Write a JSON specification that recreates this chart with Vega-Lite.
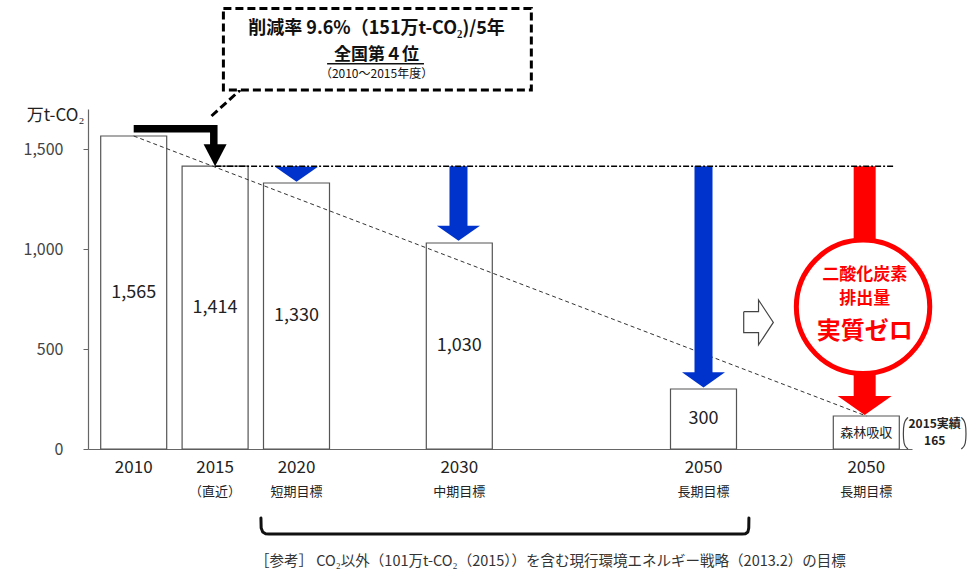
{
  "$schema": "https://vega.github.io/schema/vega-lite/v6.json",
  "width": 824,
  "height": 340,
  "autosize": "none",
  "padding": {"left": 88, "top": 109, "right": 64, "bottom": 125},
  "background": "white",
  "config": {"view": {"stroke": null}, "font": "Noto Sans CJK JP", "text": {"font": "Noto Sans CJK JP"}},
  "resolve": {"axis": {"x": "independent", "y": "independent"}},
  "datasets": {
    "bars": [
      {"slot": 0, "value": 1565, "label": "1,565"},
      {"slot": 1, "value": 1414, "label": "1,414"},
      {"slot": 2, "value": 1330, "label": "1,330"},
      {"slot": 4, "value": 1030, "label": "1,030"},
      {"slot": 7, "value": 300, "label": "300"},
      {"slot": 9, "value": 165, "label": "森林吸収"}
    ],
    "cats": [
      {"slot": 0, "year": "2010", "sub": ""},
      {"slot": 1, "year": "2015", "sub": "（直近）"},
      {"slot": 2, "year": "2020", "sub": "短期目標"},
      {"slot": 4, "year": "2030", "sub": "中期目標"},
      {"slot": 7, "year": "2050", "sub": "長期目標"},
      {"slot": 9, "year": "2050", "sub": "長期目標"}
    ],
    "trend": [{"slot": 0, "value": 1565}, {"slot": 9, "value": 165}],
    "baseline": [{"slot": 1, "value": 1414}, {"slot": 9.354, "value": 1414}],
    "blackPath": [
      {"slot": 0, "value": 1601, "o": 1},
      {"slot": 0.984, "value": 1601, "o": 2},
      {"slot": 0.984, "value": 1510, "o": 3}
    ],
    "blackHead": [{"slot": 1, "value": 1414}],
    "blue": [
      {"slot": 2, "from": 1414, "to": 1400, "tip": 1336},
      {"slot": 3.99, "from": 1414, "to": 1106, "tip": 1041},
      {"slot": 7, "from": 1414, "to": 373, "tip": 308}
    ],
    "red": [{"slot": 8.98, "from": 1414, "to": 255, "tip": 170}],
    "circle": [{"slot": 8.96, "value": 711}],
    "circleSmall": [
      {"slot": 8.98, "value": 868, "t": "二酸化炭素"},
      {"slot": 8.98, "value": 752, "t": "排出量"}
    ],
    "circleBig": [{"slot": 8.98, "value": 585, "t": "実質ゼロ"}],
    "outlineArrow": [
      {"slot": 7.494, "value": 686.5, "o": 1},
      {"slot": 7.676, "value": 686.5, "o": 2},
      {"slot": 7.676, "value": 745, "o": 3},
      {"slot": 7.858, "value": 633, "o": 4},
      {"slot": 7.676, "value": 521, "o": 5},
      {"slot": 7.676, "value": 581.5, "o": 6},
      {"slot": 7.494, "value": 581.5, "o": 7},
      {"slot": 7.494, "value": 686.5, "o": 8}
    ],
    "callout": [{"x1": 1.102, "x2": 4.885, "y1": 1795, "y2": 2203}],
    "pointer": [{"slot": 1.308, "value": 1795}, {"slot": 0.956, "value": 1665}],
    "calloutLine1": [{"slot": 2.983, "value": 2100, "t": "削減率 9.6%（151万t-CO₂)/5年"}],
    "calloutLine2": [{"slot": 2.983, "value": 1968, "t": "全国第４位"}],
    "calloutSmall": [{"slot": 2.983, "value": 1873, "t": "（2010～2015年度）"}],
    "underline": [{"x1": 2.376, "x2": 3.566, "value": 1926}],
    "yTitle": [{"slot": -0.961, "value": 1665, "t": "万t-CO₂"}],
    "bracket": [
      {"slot": 1.563, "value": -345, "o": 1},
      {"slot": 1.566, "value": -395, "o": 2},
      {"slot": 1.585, "value": -415, "o": 3},
      {"slot": 1.62, "value": -424, "o": 4},
      {"slot": 1.66, "value": -425, "o": 5},
      {"slot": 7.474, "value": -425, "o": 6},
      {"slot": 7.515, "value": -424, "o": 7},
      {"slot": 7.545, "value": -415, "o": 8},
      {"slot": 7.556, "value": -395, "o": 9},
      {"slot": 7.558, "value": -345, "o": 10}
    ],
    "note": [{"slot": 1.49, "value": -565, "t": "［参考］ CO₂以外（101万t-CO₂（2015））を含む現行環境エネルギー戦略（2013.2）の目標"}],
    "parens": [
      {"side": "L", "o": 1, "slot": 9.512, "value": 158},
      {"side": "L", "o": 2, "slot": 9.47, "value": 140},
      {"side": "L", "o": 3, "slot": 9.455, "value": 110},
      {"side": "L", "o": 4, "slot": 9.455, "value": 45},
      {"side": "L", "o": 5, "slot": 9.47, "value": 15},
      {"side": "L", "o": 6, "slot": 9.512, "value": 0},
      {"side": "R", "o": 1, "slot": 10.167, "value": 158},
      {"side": "R", "o": 2, "slot": 10.21, "value": 140},
      {"side": "R", "o": 3, "slot": 10.225, "value": 110},
      {"side": "R", "o": 4, "slot": 10.225, "value": 45},
      {"side": "R", "o": 5, "slot": 10.21, "value": 15},
      {"side": "R", "o": 6, "slot": 10.167, "value": 0}
    ],
    "actual": [
      {"slot": 9.84, "value": 125, "t": "2015実績"},
      {"slot": 9.84, "value": 40, "t": "165"}
    ]
  },
  "layer": [
    {
      "data": {"name": "bars"},
      "mark": {"type": "bar", "orient": "vertical", "width": 66, "fill": "white", "stroke": "#555", "strokeWidth": 1.2},
      "encoding": {
        "x": {"field": "slot", "type": "quantitative", "scale": {"domain": [-0.5, 9.5]},
              "axis": {"title": null, "labels": false, "ticks": false, "grid": false, "domainColor": "#666", "domainWidth": 1.2}},
        "y": {"field": "value", "type": "quantitative", "scale": {"domain": [0, 1700]},
              "axis": {"title": null, "values": [0, 500, 1000, 1500], "format": ",.0f", "grid": false, "domainColor": "#666", "domainWidth": 1.2,
                       "tickColor": "#666", "tickSize": 5, "labelFontSize": 16, "labelColor": "#444", "labelFont": "Noto Sans CJK JP", "labelPadding": 20}}
      }
    },
    {
      "data": {"name": "trend"},
      "mark": {"type": "line", "strokeDash": [4, 3], "color": "#333", "strokeWidth": 1},
      "encoding": {
        "x": {"field": "slot", "type": "quantitative", "scale": {"domain": [-0.5, 9.5]}, "axis": null},
        "y": {"field": "value", "type": "quantitative", "scale": {"domain": [0, 1700]}, "axis": null}
      }
    },
    {
      "data": {"name": "bars"},
      "transform": [{"calculate": "datum.value / 2", "as": "mid"}],
      "mark": {"type": "text", "color": "#222", "baseline": "middle"},
      "encoding": {
        "x": {"field": "slot", "type": "quantitative", "scale": {"domain": [-0.5, 9.5]}, "axis": null},
        "y": {"field": "mid", "type": "quantitative", "scale": {"domain": [0, 1700]}, "axis": null},
        "text": {"field": "label"},
        "size": {"condition": {"test": "datum.slot === 9", "value": 13}, "value": 18}
      }
    },
    {
      "data": {"name": "blackPath"},
      "mark": {"type": "line", "color": "black", "strokeWidth": 7.5, "strokeJoin": "miter", "strokeCap": "butt"},
      "encoding": {
        "x": {"field": "slot", "type": "quantitative", "scale": {"domain": [-0.5, 9.5]}, "axis": null},
        "y": {"field": "value", "type": "quantitative", "scale": {"domain": [0, 1700]}, "axis": null},
        "order": {"field": "o"}
      }
    },
    {
      "data": {"name": "blackHead"},
      "mark": {"type": "point", "shape": "M-1,-1.9L1,-1.9L0,0Z", "size": 529, "filled": true, "color": "black", "opacity": 1},
      "encoding": {
        "x": {"field": "slot", "type": "quantitative", "scale": {"domain": [-0.5, 9.5]}, "axis": null},
        "y": {"field": "value", "type": "quantitative", "scale": {"domain": [0, 1700]}, "axis": null}
      }
    },
    {
      "data": {"name": "blue"},
      "mark": {"type": "rule", "color": "#0033CC", "strokeWidth": 18, "strokeCap": "butt"},
      "encoding": {
        "x": {"field": "slot", "type": "quantitative", "scale": {"domain": [-0.5, 9.5]}, "axis": null},
        "y": {"field": "from", "type": "quantitative", "scale": {"domain": [0, 1700]}, "axis": null},
        "y2": {"field": "to"}
      }
    },
    {
      "data": {"name": "blue"},
      "mark": {"type": "point", "shape": "M-1,-0.7L1,-0.7L0,0Z", "size": 1849, "filled": true, "color": "#0033CC", "opacity": 1},
      "encoding": {
        "x": {"field": "slot", "type": "quantitative", "scale": {"domain": [-0.5, 9.5]}, "axis": null},
        "y": {"field": "tip", "type": "quantitative", "scale": {"domain": [0, 1700]}, "axis": null}
      }
    },
    {
      "data": {"name": "red"},
      "mark": {"type": "rule", "color": "#FF0000", "strokeWidth": 22, "strokeCap": "butt"},
      "encoding": {
        "x": {"field": "slot", "type": "quantitative", "scale": {"domain": [-0.5, 9.5]}, "axis": null},
        "y": {"field": "from", "type": "quantitative", "scale": {"domain": [0, 1700]}, "axis": null},
        "y2": {"field": "to"}
      }
    },
    {
      "data": {"name": "red"},
      "mark": {"type": "point", "shape": "M-1,-0.7L1,-0.7L0,0Z", "size": 2916, "filled": true, "color": "#FF0000", "opacity": 1},
      "encoding": {
        "x": {"field": "slot", "type": "quantitative", "scale": {"domain": [-0.5, 9.5]}, "axis": null},
        "y": {"field": "tip", "type": "quantitative", "scale": {"domain": [0, 1700]}, "axis": null}
      }
    },
    {
      "data": {"name": "baseline"},
      "mark": {"type": "line", "color": "black", "strokeWidth": 1.5, "strokeDash": [6, 2, 2, 2]},
      "encoding": {
        "x": {"field": "slot", "type": "quantitative", "scale": {"domain": [-0.5, 9.5]}, "axis": null},
        "y": {"field": "value", "type": "quantitative", "scale": {"domain": [0, 1700]}, "axis": null}
      }
    },
    {
      "data": {"name": "circle"},
      "mark": {"type": "point", "shape": "circle", "size": 17796, "filled": true, "fill": "white", "stroke": "#FF0000", "strokeWidth": 5, "opacity": 1},
      "encoding": {
        "x": {"field": "slot", "type": "quantitative", "scale": {"domain": [-0.5, 9.5]}, "axis": null},
        "y": {"field": "value", "type": "quantitative", "scale": {"domain": [0, 1700]}, "axis": null}
      }
    },
    {
      "data": {"name": "circleSmall"},
      "mark": {"type": "text", "color": "#FF0000", "fontSize": 17, "fontWeight": "bold", "baseline": "middle"},
      "encoding": {
        "x": {"field": "slot", "type": "quantitative", "scale": {"domain": [-0.5, 9.5]}, "axis": null},
        "y": {"field": "value", "type": "quantitative", "scale": {"domain": [0, 1700]}, "axis": null},
        "text": {"field": "t"}
      }
    },
    {
      "data": {"name": "circleBig"},
      "mark": {"type": "text", "color": "#FF0000", "fontSize": 24, "fontWeight": "bold", "baseline": "middle"},
      "encoding": {
        "x": {"field": "slot", "type": "quantitative", "scale": {"domain": [-0.5, 9.5]}, "axis": null},
        "y": {"field": "value", "type": "quantitative", "scale": {"domain": [0, 1700]}, "axis": null},
        "text": {"field": "t"}
      }
    },
    {
      "data": {"name": "outlineArrow"},
      "mark": {"type": "line", "color": "#444", "strokeWidth": 1.2, "strokeJoin": "miter"},
      "encoding": {
        "x": {"field": "slot", "type": "quantitative", "scale": {"domain": [-0.5, 9.5]}, "axis": null},
        "y": {"field": "value", "type": "quantitative", "scale": {"domain": [0, 1700]}, "axis": null},
        "order": {"field": "o"}
      }
    },
    {
      "data": {"name": "pointer"},
      "mark": {"type": "line", "color": "black", "strokeWidth": 3, "strokeDash": [8, 4]},
      "encoding": {
        "x": {"field": "slot", "type": "quantitative", "scale": {"domain": [-0.5, 9.5]}, "axis": null},
        "y": {"field": "value", "type": "quantitative", "scale": {"domain": [0, 1700]}, "axis": null}
      }
    },
    {
      "data": {"name": "callout"},
      "mark": {"type": "rect", "fill": "white", "stroke": "black", "strokeWidth": 3, "strokeDash": [8, 4]},
      "encoding": {
        "x": {"field": "x1", "type": "quantitative", "scale": {"domain": [-0.5, 9.5]}, "axis": null},
        "x2": {"field": "x2"},
        "y": {"field": "y1", "type": "quantitative", "scale": {"domain": [0, 1700]}, "axis": null},
        "y2": {"field": "y2"}
      }
    },
    {
      "data": {"name": "calloutLine1"},
      "mark": {"type": "text", "color": "#111", "fontSize": 18, "fontWeight": "bold", "baseline": "middle"},
      "encoding": {
        "x": {"field": "slot", "type": "quantitative", "scale": {"domain": [-0.5, 9.5]}, "axis": null},
        "y": {"field": "value", "type": "quantitative", "scale": {"domain": [0, 1700]}, "axis": null},
        "text": {"field": "t"}
      }
    },
    {
      "data": {"name": "calloutLine2"},
      "mark": {"type": "text", "color": "#111", "fontSize": 17, "fontWeight": "bold", "baseline": "middle"},
      "encoding": {
        "x": {"field": "slot", "type": "quantitative", "scale": {"domain": [-0.5, 9.5]}, "axis": null},
        "y": {"field": "value", "type": "quantitative", "scale": {"domain": [0, 1700]}, "axis": null},
        "text": {"field": "t"}
      }
    },
    {
      "data": {"name": "calloutSmall"},
      "mark": {"type": "text", "color": "#111", "fontSize": 12, "baseline": "middle"},
      "encoding": {
        "x": {"field": "slot", "type": "quantitative", "scale": {"domain": [-0.5, 9.5]}, "axis": null},
        "y": {"field": "value", "type": "quantitative", "scale": {"domain": [0, 1700]}, "axis": null},
        "text": {"field": "t"}
      }
    },
    {
      "data": {"name": "underline"},
      "mark": {"type": "rule", "color": "#111", "strokeWidth": 1.5},
      "encoding": {
        "x": {"field": "x1", "type": "quantitative", "scale": {"domain": [-0.5, 9.5]}, "axis": null},
        "x2": {"field": "x2"},
        "y": {"field": "value", "type": "quantitative", "scale": {"domain": [0, 1700]}, "axis": null}
      }
    },
    {
      "data": {"name": "yTitle"},
      "mark": {"type": "text", "color": "#222", "fontSize": 17, "baseline": "middle"},
      "encoding": {
        "x": {"field": "slot", "type": "quantitative", "scale": {"domain": [-0.5, 9.5]}, "axis": null},
        "y": {"field": "value", "type": "quantitative", "scale": {"domain": [0, 1700]}, "axis": null},
        "text": {"field": "t"}
      }
    },
    {
      "data": {"name": "cats"},
      "mark": {"type": "text", "color": "#222", "fontSize": 17, "baseline": "middle"},
      "encoding": {
        "x": {"field": "slot", "type": "quantitative", "scale": {"domain": [-0.5, 9.5]}, "axis": null},
        "y": {"datum": -95, "type": "quantitative", "scale": {"domain": [0, 1700]}, "axis": null},
        "text": {"field": "year"}
      }
    },
    {
      "data": {"name": "cats"},
      "mark": {"type": "text", "color": "#222", "fontSize": 13, "baseline": "middle"},
      "encoding": {
        "x": {"field": "slot", "type": "quantitative", "scale": {"domain": [-0.5, 9.5]}, "axis": null},
        "y": {"datum": -215, "type": "quantitative", "scale": {"domain": [0, 1700]}, "axis": null},
        "text": {"field": "sub"}
      }
    },
    {
      "data": {"name": "bracket"},
      "mark": {"type": "line", "color": "#111", "strokeWidth": 3, "strokeCap": "round", "strokeJoin": "round"},
      "encoding": {
        "x": {"field": "slot", "type": "quantitative", "scale": {"domain": [-0.5, 9.5]}, "axis": null},
        "y": {"field": "value", "type": "quantitative", "scale": {"domain": [0, 1700]}, "axis": null},
        "order": {"field": "o"}
      }
    },
    {
      "data": {"name": "note"},
      "mark": {"type": "text", "color": "#333", "fontSize": 14.5, "align": "left", "baseline": "middle"},
      "encoding": {
        "x": {"field": "slot", "type": "quantitative", "scale": {"domain": [-0.5, 9.5]}, "axis": null},
        "y": {"field": "value", "type": "quantitative", "scale": {"domain": [0, 1700]}, "axis": null},
        "text": {"field": "t"}
      }
    },
    {
      "data": {"name": "parens"},
      "mark": {"type": "line", "color": "#444", "strokeWidth": 1.2, "interpolate": "basis"},
      "encoding": {
        "x": {"field": "slot", "type": "quantitative", "scale": {"domain": [-0.5, 9.5]}, "axis": null},
        "y": {"field": "value", "type": "quantitative", "scale": {"domain": [0, 1700]}, "axis": null},
        "detail": {"field": "side"},
        "order": {"field": "o"}
      }
    },
    {
      "data": {"name": "actual"},
      "mark": {"type": "text", "color": "#222", "fontSize": 12, "fontWeight": "bold", "baseline": "middle"},
      "encoding": {
        "x": {"field": "slot", "type": "quantitative", "scale": {"domain": [-0.5, 9.5]}, "axis": null},
        "y": {"field": "value", "type": "quantitative", "scale": {"domain": [0, 1700]}, "axis": null},
        "text": {"field": "t"}
      }
    }
  ]
}
